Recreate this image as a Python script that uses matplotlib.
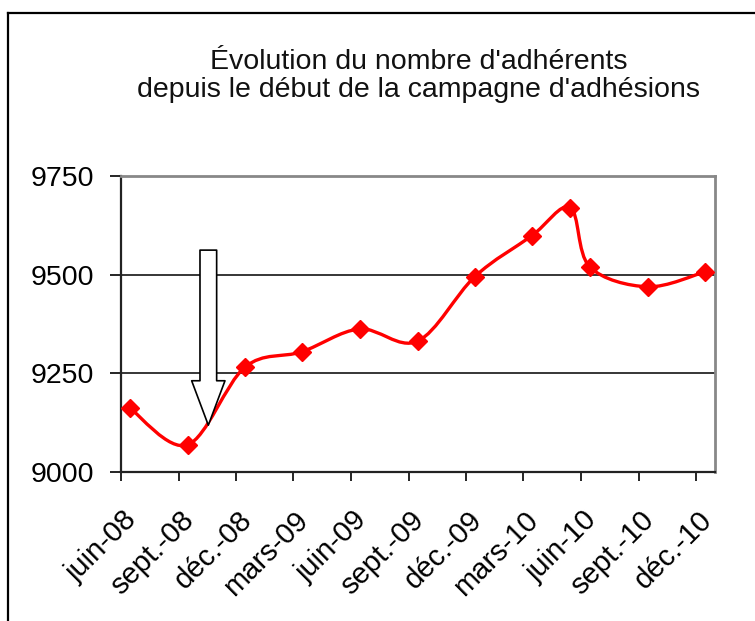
import matplotlib
matplotlib.use("Agg")
import matplotlib.pyplot as plt
import matplotlib.dates as mdates
import matplotlib.transforms as mtransforms
from matplotlib.path import Path
from matplotlib.patches import PathPatch
from matplotlib.lines import Line2D
import numpy as np

plt.rcParams['font.family'] = ['Liberation Sans', 'DejaVu Sans']

# donnees (une valeur par trimestre)
dates = ["2008-06-15", "2008-09-15", "2008-12-15", "2009-03-15", "2009-06-15",
         "2009-09-15", "2009-12-15", "2010-03-15", "2010-05-15", "2010-06-15",
         "2010-09-15", "2010-12-15"]
adherents = [9162, 9068, 9265, 9304, 9362, 9331, 9495, 9598, 9670, 9520, 9469, 9507]

tick_dates = ["2008-06-01", "2008-09-01", "2008-12-01", "2009-03-01", "2009-06-01",
              "2009-09-01", "2009-12-01", "2010-03-01", "2010-06-01", "2010-09-01",
              "2010-12-01"]
tick_labels = ["juin-08", "sept.-08", "déc.-08", "mars-09", "juin-09", "sept.-09",
               "déc.-09", "mars-10", "juin-10", "sept.-10", "déc.-10"]
y_ticks = [9000, 9250, 9500, 9750]

titre = "Évolution du nombre d'adhérents\ndepuis le début de la campagne d'adhésions"

x = mdates.date2num(np.array(dates, dtype="datetime64[D]"))
y = np.array(adherents, dtype=float)

fig = plt.figure(figsize=(7.55, 6.21), dpi=100)
ax = fig.add_axes([0.1599, 0.2404, 0.947 - 0.1599, 0.7166 - 0.2404])

# courbe lissee facon Excel (bezier type catmull-rom)
verts = [(x[0], y[0])]
codes = [Path.MOVETO]
n = len(x)
for i in range(n - 1):
    i0 = max(i - 1, 0)
    i3 = min(i + 2, n - 1)
    c1 = (x[i] + (x[i + 1] - x[i0]) / 6, y[i] + (y[i + 1] - y[i0]) / 6)
    c2 = (x[i + 1] - (x[i3] - x[i]) / 6, y[i + 1] - (y[i3] - y[i]) / 6)
    verts += [c1, c2, (x[i + 1], y[i + 1])]
    codes += [Path.CURVE4] * 3
ax.add_patch(PathPatch(Path(verts, codes), fc='none', ec='#ff0000', lw=2.4, zorder=3))
ax.plot(x, y, ls='none', marker='D', ms=9.5, color='#ff0000', zorder=4)

ax.set_xlim(mdates.date2num(np.datetime64("2008-06-01")),
            mdates.date2num(np.datetime64("2010-12-31")))
ax.set_ylim(9000, 9750)
ax.set_yticks(y_ticks)
ax.set_yticklabels([str(v) for v in y_ticks], fontsize=20.5)
ax.set_xticks(mdates.date2num(np.array(tick_dates, dtype="datetime64[D]")))
ax.set_xticklabels(tick_labels, fontsize=21, rotation=45, ha='right', va='top',
                   rotation_mode='anchor')
ax.tick_params(axis='y', direction='out', length=8, width=1.2, pad=11)
ax.tick_params(axis='x', direction='out', length=6.5, width=1.2, pad=18)
offset = mtransforms.ScaledTranslation(1 / 72, 0, fig.dpi_scale_trans)
for lab in ax.get_xticklabels():
    lab.set_transform(lab.get_transform() + offset)

for v in [9250, 9500]:
    ax.axhline(v, color='black', lw=1.1, zorder=1)
for s in ['left', 'bottom']:
    ax.spines[s].set_color('#222222')
    ax.spines[s].set_linewidth(1.6)
for s in ['top', 'right']:
    ax.spines[s].set_color('#888888')
    ax.spines[s].set_linewidth(2)

# fleche blanche
ax.annotate("", xy=(mdates.date2num(np.datetime64("2008-10-18")), 9118),
            xytext=(mdates.date2num(np.datetime64("2008-10-18")), 9562),
            arrowprops=dict(arrowstyle="simple,head_length=32,head_width=24,tail_width=12",
                            fc='white', ec='black', lw=1.2, mutation_scale=1,
                            shrinkA=0, shrinkB=0), zorder=5)

fig.text(0.554, 1 - 97 / 621, titre, ha='center', va='baseline', fontsize=20.5,
         linespacing=1.1, color='#111111')

# cadre du graphique
fig.add_artist(Line2D([7.5 / 755, 7.5 / 755], [0, 1 - 12.5 / 621], color='black', lw=1.6))
fig.add_artist(Line2D([7.5 / 755, 1], [1 - 12.5 / 621, 1 - 12.5 / 621], color='black', lw=1.6))

fig.savefig("out.png", dpi=100)
